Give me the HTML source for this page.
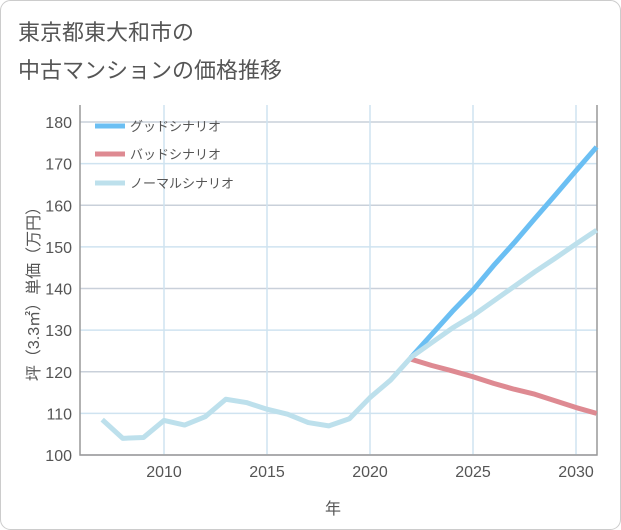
<!DOCTYPE html>
<html><head><meta charset="utf-8"><style>
body{margin:0;background:#fff;}
svg{display:block;font-family:"Liberation Sans","Noto Sans CJK JP",sans-serif;}
</style></head><body>
<svg id="chart" width="621" height="530">
<rect x="0.5" y="0.5" width="620" height="529" rx="10" fill="#fff" stroke="#ccc"/>
<text x="18" y="40" font-size="22" fill="#555">東京都東大和市の</text>
<text x="18" y="78" font-size="22" fill="#555">中古マンションの価格推移</text>
<g id="grid"></g><g id="axes"></g><g id="series"></g>
<text transform="translate(39,290) rotate(-90)" text-anchor="middle" font-size="16" fill="#555">坪（3.3㎡）単価（万円）</text>
<text x="333" y="514" text-anchor="middle" font-size="16" fill="#555">年</text>
<g>
<line x1="95" y1="126" x2="125" y2="126" stroke="#6bbff3" stroke-width="5"/>
<text x="130" y="131" font-size="13" fill="#555">グッドシナリオ</text>
<line x1="95" y1="154" x2="125" y2="154" stroke="#de8a92" stroke-width="5"/>
<text x="130" y="159" font-size="13" fill="#555">バッドシナリオ</text>
<line x1="95" y1="183" x2="125" y2="183" stroke="#bde0ec" stroke-width="5"/>
<text x="130" y="188" font-size="13" fill="#555">ノーマルシナリオ</text>
</g>
</svg>
<script>
const histYears=[2007,2008,2009,2010,2011,2012,2013,2014,2015,2016,2017,2018,2019,2020,2021,2022];
const histValues=[108.5,104,104.2,108.3,107.2,109.2,113.4,112.6,111.0,109.8,107.8,107.0,108.7,113.8,118,123.5];
const futYears=[2022,2023,2024,2025,2026,2027,2028,2029,2030,2031];
const goodValues=[123.5,129,134.5,139.6,145.5,151,156.8,162.5,168.3,174];
const normalValues=[123.5,127,130.5,133.5,137,140.5,144,147.3,150.7,154];
const badValues=[123,121.5,120.2,118.8,117.2,115.8,114.6,113,111.4,110];
const yTicks=[100,110,120,130,140,150,160,170,180];
const xTicks=[2010,2015,2020,2025,2030];
const X0=80,X1=597,Y0=455,Y1=105;
const xs=y=>164+(y-2010)*20.6;
const ys=v=>455-(v-100)*4.1625;
const NS="http://www.w3.org/2000/svg";
function mk(tag,attrs,parent){const e=document.createElementNS(NS,tag);for(const k in attrs)e.setAttribute(k,attrs[k]);document.getElementById(parent).appendChild(e);return e;}
yTicks.forEach(v=>{
 const l=mk('line',{x1:X0,x2:X1,y1:ys(v),y2:ys(v),stroke:(v%20===0)?'#c9d0da':'#cfe3f0','stroke-width':1.5},'grid');
 
 
 const t=mk('text',{x:72,y:ys(v)+6,'text-anchor':'end','font-size':16,fill:'#555'},'axes');
 t.textContent=v;
 
 
});
xTicks.forEach(y=>{
 const l=mk('line',{x1:xs(y),x2:xs(y),y1:Y1,y2:Y0,stroke:'#cfe3f0','stroke-width':1.5},'grid');
 
 
 const t=mk('text',{x:xs(y),y:477,'text-anchor':'middle','font-size':16,fill:'#555'},'axes');
 t.textContent=y;
 
 
});
const ax=mk('path',{d:`M${X0},${Y1}V${Y0}H${X1}V${Y1}`,fill:'none',stroke:'#999','stroke-width':1.5},'axes');


function line(years,vals,color,name){
 const d=years.map((y,i)=>(i?'L':'M')+xs(y)+','+ys(vals[i])).join('');
 const p=mk('path',{d:d,fill:'none',stroke:color,'stroke-width':5,'stroke-linejoin':'round'},'series');
 
 
}
line(futYears,badValues,'#de8a92','bad-scenario-line');
line(futYears,goodValues,'#6bbff3','good-scenario-line');
line(futYears,normalValues,'#bde0ec','normal-scenario-line');
line(histYears,histValues,'#bde0ec','historical-line');
</script>
</body></html>
